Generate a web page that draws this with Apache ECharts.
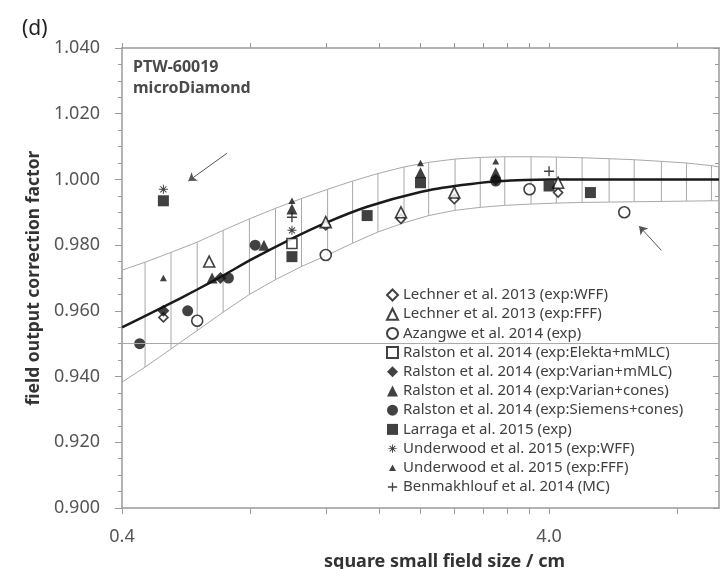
<!DOCTYPE html>
<html>
<head>
<meta charset="utf-8">
<title>PTW-60019 microDiamond - field output correction factor</title>
<script src="https://cdn.jsdelivr.net/npm/echarts@6.0.0/dist/echarts.min.js"></script>
<style>
  html, body { margin: 0; padding: 0; background: #fff; }
  #chart { width: 725px; height: 569px; }
</style>
</head>
<body>
<div id="chart"></div>
<script>
// Field sizes (cm) and correction factors
const lechnerWffX = [0.5, 1.2, 1.8, 2.4, 4.2];
const lechnerWffY = [0.958, 0.986, 0.988, 0.994, 0.996];
const lechnerFffX = [0.64, 1.2, 1.8, 2.4, 4.2];
const lechnerFffY = [0.975, 0.987, 0.990, 0.996, 0.999];
const azangweX = [0.6, 1.2, 3.6, 6.0];
const azangweY = [0.957, 0.977, 0.997, 0.990];
const ralstonElektaX = [1.0];
const ralstonElektaY = [0.9805];
const ralstonVarianMlcX = [0.5, 0.68, 3.0];
const ralstonVarianMlcY = [0.960, 0.970, 1.000];
const ralstonVarianConesX = [0.65, 0.86, 1.0, 2.0, 3.0];
const ralstonVarianConesY = [0.970, 0.980, 0.991, 1.002, 1.002];
const ralstonSiemensX = [0.44, 0.57, 0.71, 0.82, 3.0];
const ralstonSiemensY = [0.950, 0.960, 0.970, 0.980, 0.9995];
const larragaX = [0.5, 1.0, 1.5, 2.0, 4.0, 5.0];
const larragaY = [0.9935, 0.9765, 0.989, 0.999, 0.998, 0.996];
const underwoodWffX = [0.5, 1.0];
const underwoodWffY = [0.997, 0.9845];
const underwoodFffX = [0.5, 1.0, 2.0, 3.0];
const underwoodFffY = [0.970, 0.9935, 1.005, 1.0055];
const benmakhloufX = [1.0, 4.0];
const benmakhloufY = [0.9885, 1.0025];

// Fitted curve
const fitX = [0.4, 0.5, 0.6, 0.7, 0.8, 1.0, 1.2, 1.5, 2.0, 2.5, 3.0, 4.0, 6.0, 10];
const fitY = [0.955, 0.9612, 0.9665, 0.9712, 0.9755, 0.982, 0.9868, 0.9917, 0.9962, 0.9983, 0.9994, 1.000, 1.000, 1.000];

// Hatched uncertainty band (x, lower, upper)
const bandX = [0.4, 0.453, 0.521, 0.600, 0.690, 0.795, 0.915, 1.053, 1.212, 1.387, 1.59, 1.83,
               2.09, 2.41, 2.76, 3.15, 3.63, 4.16, 4.78, 5.53, 6.33, 7.33, 8.39, 9.6, 10];
const bandLow = [0.9383, 0.9429, 0.9484, 0.954, 0.9596, 0.9650, 0.9695, 0.9735, 0.9770, 0.9806, 0.9840, 0.9868,
                 0.989, 0.9906, 0.9915, 0.9921, 0.9925, 0.9928, 0.993, 0.9931, 0.9932, 0.9933, 0.9934, 0.9935, 0.9935];
const bandHigh = [0.9724, 0.9748, 0.9778, 0.9809, 0.9845, 0.9880, 0.9912, 0.9942, 0.9970, 0.9995, 1.0018, 1.0038,
                  1.0052, 1.0062, 1.0067, 1.0069, 1.0069, 1.0068, 1.0066, 1.0063, 1.006, 1.0055, 1.005, 1.0042, 1.0038];

// Axis ticks
const xLabelValues = [0.4, 4.0];
const xTickValues = [0.4, 0.8, 1.2, 1.6, 2.0, 2.4, 2.8, 3.2, 3.6, 4.0, 8.0];

const FONT = 'Noto Sans';
const pairs = (xs, ys) => xs.map((x, i) => [x, ys[i]]);

// small marker shapes (padded so they stay small in the legend too)
const asteriskPath = 'path://M0,0M12,12M5.5,1.5h1v9h-1z M1.5,5.5h9v1h-9z M2.6,3.3l0.7,-0.7l6.1,6.1l-0.7,0.7z M8.7,2.6l0.7,0.7l-6.1,6.1l-0.7,-0.7z';
const smallTriPath = 'path://M0,0M12,12M6,2.5L9.8,9.5L2.2,9.5Z';
const plusPath = 'path://M0,0M12,12M5.3,1h1.4v4.3h4.3v1.4h-4.3v4.3h-1.4v-4.3h-4.3v-1.4h4.3z';

const markerSeries = [
  { name: 'Lechner et al. 2013 (exp:WFF)', xs: lechnerWffX, ys: lechnerWffY, symbol: 'diamond', size: 9, fill: '#fff' },
  { name: 'Lechner et al. 2013 (exp:FFF)', xs: lechnerFffX, ys: lechnerFffY, symbol: 'triangle', size: 11, fill: '#fff' },
  { name: 'Azangwe et al. 2014 (exp)', xs: azangweX, ys: azangweY, symbol: 'circle', size: 11, fill: '#fff' },
  { name: 'Ralston et al. 2014 (exp:Elekta+mMLC)', xs: ralstonElektaX, ys: ralstonElektaY, symbol: 'rect', size: 10, fill: '#fff' },
  { name: 'Ralston et al. 2014 (exp:Varian+mMLC)', xs: ralstonVarianMlcX, ys: ralstonVarianMlcY, symbol: 'diamond', size: 12, fill: '#111' },
  { name: 'Ralston et al. 2014 (exp:Varian+cones)', xs: ralstonVarianConesX, ys: ralstonVarianConesY, symbol: 'triangle', size: 11, fill: '#111' },
  { name: 'Ralston et al. 2014 (exp:Siemens+cones)', xs: ralstonSiemensX, ys: ralstonSiemensY, symbol: 'circle', size: 11, fill: '#111' },
  { name: 'Larraga et al. 2015 (exp)', xs: larragaX, ys: larragaY, symbol: 'rect', size: 11, fill: '#111' },
  { name: 'Underwood et al. 2015 (exp:WFF)', xs: underwoodWffX, ys: underwoodWffY, symbol: asteriskPath, size: 12, fill: '#111' },
  { name: 'Underwood et al. 2015 (exp:FFF)', xs: underwoodFffX, ys: underwoodFffY, symbol: smallTriPath, size: 11, fill: '#111' },
  { name: 'Benmakhlouf et al. 2014 (MC)', xs: benmakhloufX, ys: benmakhloufY, symbol: plusPath, size: 12, fill: '#111' }
];

const axisGray = '#9a9a9a';

const chart = echarts.init(document.getElementById('chart'));

const series = [
  {
    name: 'band hatch',
    type: 'custom',
    xAxisIndex: 0, yAxisIndex: 0,
    z: 1, silent: true,
    data: bandX.map((x, i) => [x, bandLow[i], bandHigh[i]]),
    renderItem: function (params, api) {
      const top = api.coord([api.value(0), api.value(2)]);
      const bot = api.coord([api.value(0), api.value(1)]);
      return {
        type: 'line',
        shape: { x1: top[0], y1: top[1], x2: bot[0], y2: bot[1] },
        style: { stroke: '#a8a8a8', lineWidth: 1 }
      };
    }
  },
  {
    name: 'band upper',
    type: 'line', z: 1, silent: true,
    showSymbol: false, smooth: false,
    lineStyle: { color: '#a8a8a8', width: 1 },
    data: pairs(bandX, bandHigh),
    markLine: {
      silent: true,
      symbol: ['none', 'arrow'], symbolSize: 8,
      label: { show: false },
      lineStyle: { color: '#555', width: 1, type: 'solid' },
      data: [
        [{ coord: [0.705, 1.008] }, { coord: [0.572, 0.9995] }],
        [{ coord: [7.33, 0.9784] }, { coord: [6.5, 0.9858] }]
      ]
    }
  },
  {
    name: 'band lower',
    type: 'line', z: 1, silent: true,
    showSymbol: false, smooth: false,
    lineStyle: { color: '#a8a8a8', width: 1 },
    data: pairs(bandX, bandLow),
    markLine: {
      silent: true, symbol: 'none',
      label: { show: false },
      lineStyle: { color: '#aaa', width: 1, type: 'solid' },
      data: [{ yAxis: 0.95 }]
    }
  },
  {
    name: 'fit',
    type: 'line', z: 2, silent: true,
    showSymbol: false, smooth: 0.25,
    lineStyle: { color: '#1a1a1a', width: 2.5 },
    data: pairs(fitX, fitY)
  }
];

markerSeries.forEach(s => {
  series.push({
    name: s.name,
    type: 'scatter',
    z: 3,
    symbol: s.symbol,
    symbolSize: s.size,
    itemStyle: {
      color: s.fill,
      borderColor: '#111',
      borderWidth: s.fill === '#fff' ? 1.6 : 0
    },
    data: pairs(s.xs, s.ys)
  });
});

const option = {
  animation: false,
  backgroundColor: '#fff',
  textStyle: { fontFamily: FONT },
  title: [
    { text: '(d)', left: 17, top: 14, padding: 5,
      textStyle: { fontFamily: FONT, fontSize: 21, fontWeight: 'normal', color: '#222' } },
    { text: 'PTW-60019\nmicroDiamond', left: 128, top: 52, padding: 5,
      textStyle: { fontFamily: FONT, fontSize: 16, fontWeight: 'bold', color: '#4a4a4a', lineHeight: 21 } }
  ],
  grid: { left: 122, top: 48, width: 597, height: 460, containLabel: false, outerBoundsMode: 'none' },
  legend: {
    orient: 'vertical',
    left: 378, top: 283,
    backgroundColor: '#fff',
    padding: [4, 10, 4, 8],
    itemWidth: 11, itemHeight: 11, itemGap: 3.2,
    selectedMode: false,
    textStyle: { fontFamily: FONT, fontSize: 15, color: '#404040', lineHeight: 16 },
    data: markerSeries.map(s => s.name)
  },
  xAxis: [
    {
      type: 'log', logBase: 10, min: 0.4, max: 10, position: 'bottom',
      name: 'square small field size / cm',
      nameLocation: 'middle', nameGap: 45,
      nameTextStyle: { fontFamily: FONT, fontSize: 18, fontWeight: 'bold', color: '#333', padding: [0, 0, 0, 48] },
      axisLine: { show: true, onZero: false, lineStyle: { color: axisGray, width: 1.5 } },
      axisTick: { show: true, customValues: xTickValues, length: 6, lineStyle: { color: axisGray } },
      axisLabel: { customValues: xLabelValues, formatter: v => Number(v).toFixed(1),
                   margin: 20, fontFamily: FONT, fontSize: 18, color: '#555' },
      splitLine: { show: false }
    },
    {
      type: 'log', logBase: 10, min: 0.4, max: 10, position: 'top',
      axisLine: { show: true, onZero: false, lineStyle: { color: axisGray, width: 1.5 } },
      axisTick: { show: true, customValues: xTickValues, length: 5, lineStyle: { color: axisGray } },
      axisLabel: { show: false },
      splitLine: { show: false }
    }
  ],
  yAxis: [
    {
      type: 'value', min: 0.9, max: 1.04, interval: 0.02, position: 'left',
      name: 'field output correction factor',
      nameLocation: 'middle', nameGap: 78,
      nameTextStyle: { fontFamily: FONT, fontSize: 17.5, fontWeight: 'bold', color: '#333' },
      axisLine: { show: true, onZero: false, lineStyle: { color: axisGray, width: 1.5 } },
      axisTick: { show: true, length: 7, lineStyle: { color: axisGray } },
      minorTick: { show: true, splitNumber: 4, length: 4, lineStyle: { color: axisGray } },
      axisLabel: { formatter: v => v.toFixed(3), margin: 22, fontFamily: FONT, fontSize: 18, color: '#555' },
      splitLine: { show: false }
    },
    {
      type: 'value', min: 0.9, max: 1.04, interval: 0.02, position: 'right',
      axisLine: { show: true, onZero: false, lineStyle: { color: axisGray, width: 1.5 } },
      axisTick: { show: true, inside: true, length: 6, lineStyle: { color: axisGray } },
      minorTick: { show: true, splitNumber: 4, length: 4, lineStyle: { color: axisGray } },
      axisLabel: { show: false },
      splitLine: { show: false }
    }
  ],
  series: series
};

chart.setOption(option);
</script>
</body>
</html>
